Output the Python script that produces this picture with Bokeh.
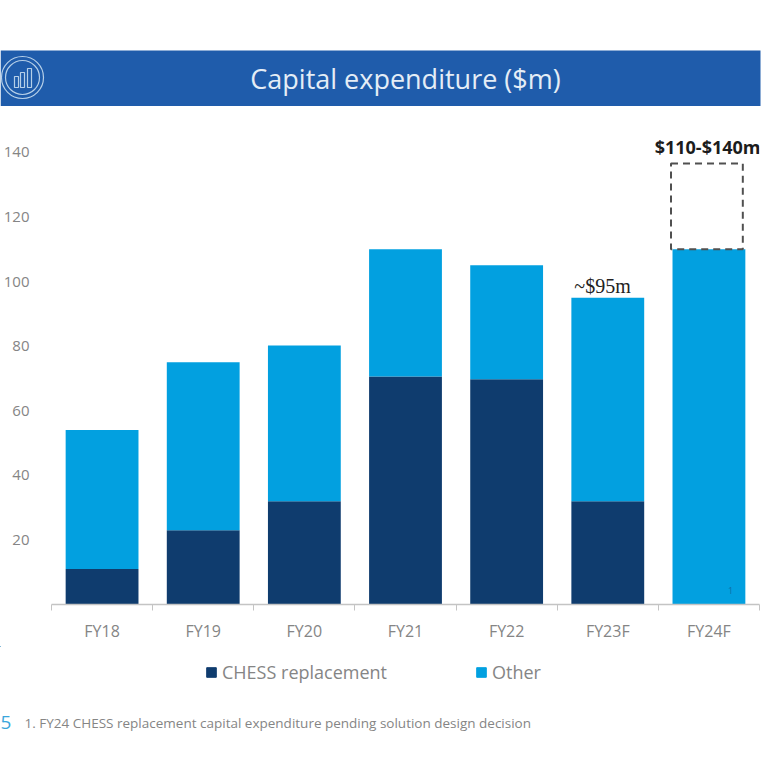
import numpy as np
from bokeh.embed import file_html
from bokeh.resources import INLINE
from bokeh.plotting import figure
from bokeh.core.properties import value
from bokeh.models import (Range1d, FixedTicker, Label, Legend, LegendItem, ColumnDataSource)

categories = ["FY18", "FY19", "FY20", "FY21", "FY22", "FY23F", "FY24F"]
chess = [11, 23, 32, 70.6, 69.7, 32, 0]
other = [43, 52, 48.2, 39.4, 35.3, 63, 110]
y_ticks = [20, 40, 60, 80, 100, 120, 140]
series_names = ["CHESS replacement", "Other"]
series_colors = ["#0f3c6e", "#02a0e0"]
range_low = 110
range_high = 136.5
title_text = "Capital expenditure ($m)"
footnote_text = "1. FY24 CHESS replacement capital expenditure pending solution design decision"
FONT = "Open Sans"
GRAY = "#858585"

W = 768
TOP_H = 106
MAIN_H = 540
FOOT_TOP = TOP_H + MAIN_H
FOOT_H = 768 - FOOT_TOP
L, R, T, B = 50, 759, 130, 604
PX = 3.23


def place(f, top):
    f.styles = {"position": "absolute", "left": "0px", "top": f"{top}px"}


def pixel_figure(height, top):
    # a figure whose frame fills it, with one data unit per pixel
    f = figure(width=W, height=height, output_backend="svg", toolbar_location=None,
               x_range=Range1d(0, W), y_range=Range1d(top + height, top),
               min_border=0)
    f.axis.visible = False
    f.grid.visible = False
    f.outline_line_color = None
    place(f, top)
    return f


# banner
ban = pixel_figure(TOP_H, 0)
ban.quad(left=[0], right=[760], top=[50], bottom=[105.5], fill_color="#1f5cab", line_color=None)
ban.circle(x=[22, 22], y=[77, 77], radius=[21, 17], fill_color=None, line_color="#b5cfe8", line_width=1.2)
ban.quad(left=[14, 20, 27], right=[18, 24, 31], top=[76, 72, 68], bottom=[87, 87, 87],
         fill_color=None, line_color="#b5cfe8", line_width=1.2)
ban.text(x=[405], y=[78], text=[title_text], text_font=value(FONT), text_font_size="27px",
         text_color="#e4edf6", text_align="center", text_baseline="middle")

# chart
p = figure(width=W, height=MAIN_H, output_backend="svg", toolbar_location=None,
           x_range=Range1d(0, len(categories)), y_range=Range1d(0, (B - T) / PX),
           min_border_left=L, min_border_right=W - R, min_border_top=T - TOP_H,
           min_border_bottom=FOOT_TOP - B)
place(p, TOP_H)
p.grid.visible = False
p.outline_line_color = None

xc = np.arange(len(categories)) + 0.5
src = ColumnDataSource(dict(x=xc, chess=chess, other=other))
rs = p.vbar_stack(["chess", "other"], x="x", width=0.72, source=src,
                  color=series_colors, line_color=None)

# dashed range box, offset a little to the left of the bar as in the reference
p.quad(left=[xc[-1] - 0.375], right=[xc[-1] + 0.335], bottom=[range_low], top=[range_high],
       fill_color=None, line_color="#505050", line_width=2, line_dash="7 5")

ax = p.xaxis[0]
ax.ticker = FixedTicker(ticks=list(xc), minor_ticks=list(range(len(categories) + 1)))
ax.major_label_overrides = {float(x): c for x, c in zip(xc, categories)}
ax.major_tick_out = 0
ax.major_tick_in = 0
ax.minor_tick_out = 6
ax.minor_tick_in = 0
ax.minor_tick_line_color = "#c4c4c4"
ax.axis_line_color = "#c4c4c4"
ax.axis_line_width = 1.5
ax.major_label_text_font = FONT
ax.major_label_text_font_size = "16px"
ax.major_label_text_color = GRAY
ax.major_label_standoff = 9

ay = p.yaxis[0]
ay.ticker = FixedTicker(ticks=y_ticks)
ay.axis_line_color = None
ay.major_tick_out = 0
ay.major_tick_in = 0
ay.minor_tick_out = 0
ay.minor_tick_in = 0
ay.major_label_text_font = FONT
ay.major_label_text_font_size = "15px"
ay.major_label_text_color = GRAY
ay.major_label_standoff = 22


def frame_label(x, y, text, **kw):
    # x, y in page pixels; labels are anchored in the frame's screen space
    p.add_layout(Label(x=x - L, y=B - y, x_units="screen", y_units="screen", text=text,
                       text_baseline="middle", **kw))


frame_label(759, 146, "$110-$140m", text_font=FONT, text_font_size="18px", text_font_style="bold",
            text_color="#1c1c1c", text_align="right")
frame_label(601, 285, "~$95m", text_font="Liberation Serif", text_font_size="20px",
            text_color="#222222", text_align="center")
frame_label(729, 590, "1", text_font=FONT, text_font_size="9px", text_color="#0f6fa8", text_align="center",
            level="overlay")

# footer: legend and footnote
foot = pixel_figure(FOOT_H, FOOT_TOP)
# legend keys: one off-view bar per series, so the legend has a glyph to draw
keys = [foot.vbar(x=[-100], top=[-100], bottom=[-200], width=1, color=c) for c in series_colors]
legend = Legend(items=[LegendItem(label=n, renderers=[k]) for n, k in zip(series_names, keys)],
                orientation="horizontal", location=(205, 768 - 684),
                glyph_width=12, glyph_height=12, label_standoff=5, spacing=88,
                padding=0, margin=0, border_line_color=None, background_fill_alpha=0,
                label_text_font=FONT, label_text_font_size="18px", label_text_color=GRAY)
foot.add_layout(legend, "center")
foot.text(x=[0], y=[722], text=["5"], text_font=value(FONT), text_font_size="19px",
          text_color="#3aa6dc", text_align="left", text_baseline="middle")
foot.text(x=[24], y=[722], text=[footnote_text], text_font=value(FONT), text_font_size="13.5px",
          text_color=GRAY, text_align="left", text_baseline="middle")

open("out.html", "w").write(file_html([ban, p, foot], INLINE))
